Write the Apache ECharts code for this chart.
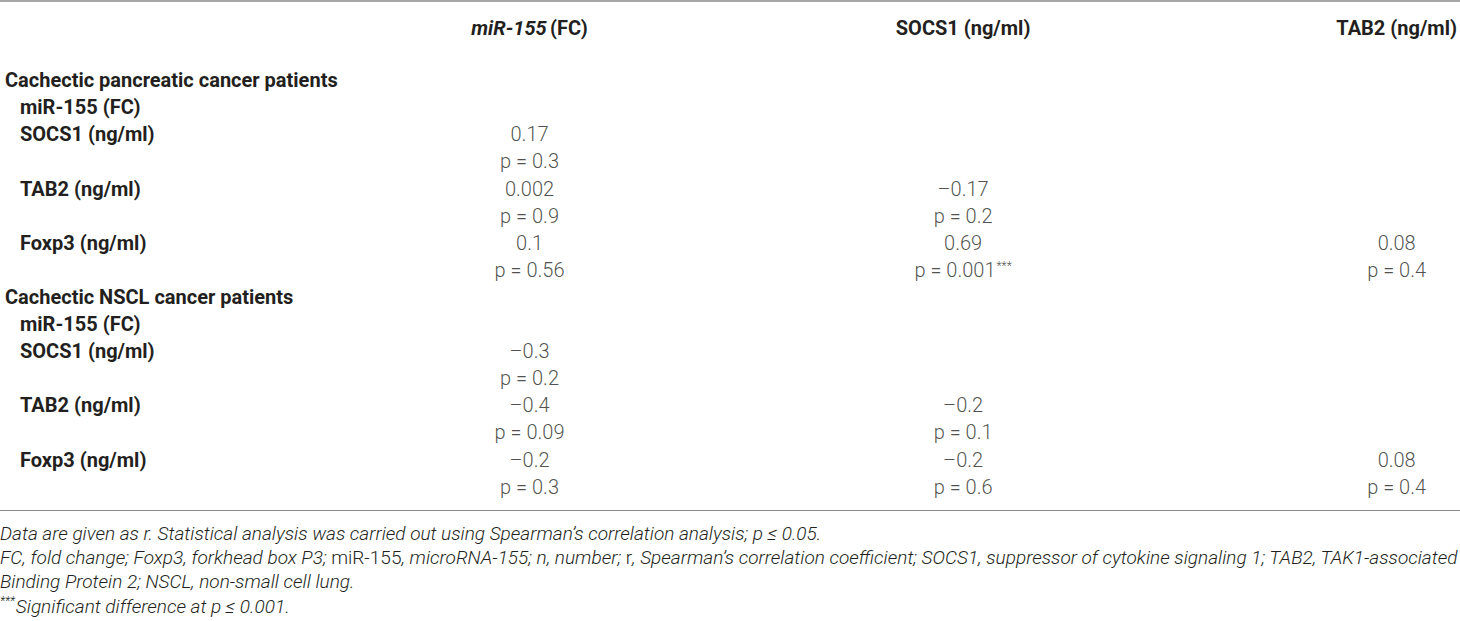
<!DOCTYPE html>
<html>
<head>
<meta charset="utf-8">
<title>miR-155 / SOCS1 / TAB2 / Foxp3 correlations</title>
<script src="https://cdn.jsdelivr.net/npm/echarts@6/dist/echarts.min.js"></script>
<style>
    html, body { margin: 0; padding: 0; background: #fff; }
    #chart { width: 1460px; height: 621px; }
</style>
</head>
<body>
<div id="chart"></div>
<script>
    // table data (Spearman r and p values)
    var colHeaders = ['miR-155 (FC)', 'SOCS1 (ng/ml)', 'TAB2 (ng/ml)'];
    var groups = ['Cachectic pancreatic cancer patients', 'Cachectic NSCL cancer patients'];
    var markers = ['miR-155 (FC)', 'SOCS1 (ng/ml)', 'TAB2 (ng/ml)', 'Foxp3 (ng/ml)'];
    var pancreaticR = [[0.17], [0.002, -0.17], [0.1, 0.69, 0.08]];
    var pancreaticP = [[0.3], [0.9, 0.2], [0.56, 0.001, 0.4]];
    var nsclR = [[-0.3], [-0.4, -0.2], [-0.2, -0.2, 0.08]];
    var nsclP = [[0.2], [0.09, 0.1], [0.3, 0.6, 0.4]];
    var footnotes = [
        '{i|Data are given as r. Statistical analysis was carried out using Spearman\u2019s correlation analysis; p \u2264 0.05.}',
        '{i|FC, fold change; Foxp3, forkhead box P3; }{n|miR-155}{i|, microRNA-155; n, number; }{n|r}{i|, Spearman\u2019s correlation coefficient; SOCS1, suppressor of cytokine signaling 1; TAB2, TAK1-associated}',
        '{i|Binding Protein 2; NSCL, non-small cell lung.}',
        '{s|***}{i|Significant difference at p \u2264 0.001.}'
    ];

    var FONT = 'Roboto, "Liberation Sans", sans-serif';
    var INK = '#231f20';
    var RULE = '#8a8a8a';
    var FS = 20;

    function fmt(v) {
        return v < 0 ? '\u2013' + String(-v) : String(v);
    }

    // rows are numbered 1..16 top to bottom
    var rowLabels = {};
    var cells = [];
    [[pancreaticR, pancreaticP], [nsclR, nsclP]].forEach(function (g, gi) {
        var base = gi * 8;
        rowLabels[base + 1] = '{grp|' + groups[gi] + '}';
        rowLabels[base + 2] = '{sub|' + markers[0] + '}';
        g[0].forEach(function (rs, k) {
            var rRow = base + 3 + k * 2;
            rowLabels[rRow] = '{sub|' + markers[k + 1] + '}';
            rs.forEach(function (r, c) {
                var p = g[1][k][c];
                cells.push([c + 1, rRow, '{v|' + fmt(r) + '}']);
                cells.push([c + 1, rRow + 1, '{v|p = ' + fmt(p) + '}' + (p <= 0.001 ? '{sup|***}' : '')]);
            });
        });
    });

    var chart = echarts.init(document.getElementById('chart'), null, { renderer: 'svg' });

    var titles = footnotes.map(function (t, i) {
        return {
            text: t,
            left: 0,
            top: 522 + i * 24.4,
            padding: 0,
            textStyle: {
                rich: {
                    i: { fontFamily: FONT, fontSize: 19, lineHeight: 22, fontStyle: 'italic', fontWeight: 300, color: INK },
                    n: { fontFamily: FONT, fontSize: 19, lineHeight: 22, fontWeight: 300, color: INK },
                    s: { fontFamily: FONT, fontSize: 12, lineHeight: 22, fontStyle: 'italic', fontWeight: 300, color: INK, verticalAlign: 'top', padding: [0, 1, 6, 0] }
                }
            }
        };
    });

    function ruleAxis(pos, offset, width) {
        return {
            type: 'value',
            gridIndex: 1,
            position: pos,
            offset: offset,
            min: 0,
            max: 1,
            axisLine: { show: true, lineStyle: { color: RULE, width: width } },
            axisTick: { show: false },
            axisLabel: { show: false },
            splitLine: { show: false }
        };
    }

    chart.setOption({
        animation: false,
        backgroundColor: '#fff',
        title: titles,
        grid: [
            { left: 96, right: 0, top: 53, bottom: 111 },
            // full-width grid that only carries the table rules
            { left: 0, right: 0, top: 53, bottom: 111 }
        ],
        xAxis: [{
            type: 'value',
            gridIndex: 0,
            position: 'top',
            min: 0,
            max: 3.143,
            interval: 1,
            axisLine: { show: false },
            axisTick: { show: false },
            splitLine: { show: false },
            axisLabel: {
                showMaxLabel: false,
                margin: 15,
                formatter: function (v) {
                    var h = colHeaders[v - 1];
                    if (!h) return '';
                    if (v === 1) return '{it|miR-155} {b|(FC)}';
                    return '{b|' + h + '}';
                },
                rich: {
                    it: { fontFamily: FONT, fontSize: FS, fontWeight: 'bold', fontStyle: 'italic', color: INK },
                    b: { fontFamily: FONT, fontSize: FS, fontWeight: 'bold', color: INK }
                }
            }
        },
            ruleAxis('top', 0, 1.2),
            ruleAxis('top', 52, 1.5),
            ruleAxis('bottom', 0, 1.2)
        ],
        yAxis: [{
            type: 'value',
            gridIndex: 0,
            inverse: true,
            min: 0,
            max: 16.86,
            interval: 1,
            axisLine: { show: false },
            axisTick: { show: false },
            splitLine: { show: false },
            axisLabel: {
                showMaxLabel: false,
                align: 'left',
                margin: 91,
                formatter: function (v) {
                    return rowLabels[v] || '';
                },
                rich: {
                    grp: { fontFamily: FONT, fontSize: FS, fontWeight: 'bold', color: INK },
                    sub: { fontFamily: FONT, fontSize: FS, fontWeight: 'bold', color: INK, padding: [0, 0, 0, 15] }
                }
            }
        }, {
            type: 'value',
            gridIndex: 1,
            show: false
        }],
        series: [{
            type: 'scatter',
            xAxisIndex: 0,
            yAxisIndex: 0,
            symbolSize: 1,
            itemStyle: { color: 'rgba(0,0,0,0)' },
            data: cells,
            label: {
                show: true,
                position: 'inside',
                formatter: function (p) { return p.data[2]; },
                rich: {
                    v: { fontFamily: FONT, fontSize: FS, fontWeight: 300, color: INK },
                    sup: { fontFamily: FONT, fontSize: 12, fontWeight: 300, color: INK, verticalAlign: 'top', padding: [0, 0, 8, 1] }
                }
            }
        }]
    });
</script>
</body>
</html>
